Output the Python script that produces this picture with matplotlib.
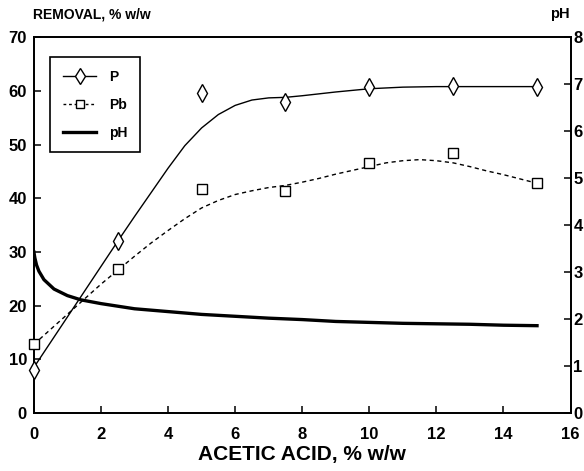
import matplotlib

matplotlib.use("Agg")
import matplotlib.pyplot as plt
from matplotlib.lines import Line2D

plt.rcParams["font.family"] = ["Liberation Sans", "DejaVu Sans"]
plt.rcParams["font.weight"] = "bold"
plt.rcParams["axes.labelweight"] = "bold"

# measured removal, % w/w
acid = [0, 2.5, 5, 7.5, 10, 12.5, 15]
p_removal = [8.0, 32.0, 59.6, 57.9, 60.7, 60.9, 60.8]
pb_removal = [12.8, 26.8, 41.7, 41.4, 46.6, 48.5, 42.8]

# fitted trend for P
p_fit_x = [0, 0.5, 1, 1.5, 2, 2.5, 3, 3.5, 4, 4.5, 5, 5.5, 6, 6.5, 7, 7.5, 8, 9, 10, 11, 12, 13, 14, 15]
p_fit_y = [8.5, 13.2, 17.9, 22.6, 27.3, 32.0, 36.6, 41.1, 45.6, 49.8, 53.1, 55.6, 57.3, 58.3, 58.7, 58.8,
           59.1, 59.8, 60.4, 60.7, 60.8, 60.8, 60.8, 60.8]

# fitted trend for Pb
pb_fit_x = [0, 0.5, 1, 1.5, 2, 2.5, 3, 3.5, 4, 4.5, 5, 5.5, 6, 6.5, 7, 7.5, 8, 8.5, 9, 9.5, 10,
            10.5, 11, 11.5, 12, 12.5, 13, 13.5, 14, 14.5, 15]
pb_fit_y = [12.8, 15.6, 18.4, 21.2, 24.0, 26.6, 29.2, 31.7, 34.0, 36.2, 38.2, 39.6, 40.7, 41.4, 42.0,
            42.4, 43.0, 43.7, 44.5, 45.2, 45.9, 46.6, 47.0, 47.2, 47.0, 46.6, 45.9, 45.1, 44.4, 43.6, 42.8]

# pH of the extract
ph_x = [0.0, 0.03, 0.08, 0.15, 0.3, 0.6, 1.0, 1.4, 2.0, 3.0, 4.0, 5.0, 6.0, 7.0, 8.0, 9.0, 10.0, 11.0,
        12.0, 13.0, 14.0, 15.0]
ph_y = [3.43, 3.30, 3.15, 3.02, 2.84, 2.64, 2.50, 2.41, 2.33, 2.22, 2.16, 2.10, 2.06, 2.02, 1.99, 1.95,
        1.93, 1.91, 1.90, 1.89, 1.87, 1.86]

fig = plt.figure(figsize=(5.84, 4.71), dpi=100)
ax = fig.add_axes([0.058, 0.123, 0.919, 0.798])
ax2 = ax.twinx()

ax.plot(p_fit_x, p_fit_y, color="black", lw=1.0)
ax.plot(pb_fit_x, pb_fit_y, color="black", lw=1.0, ls=(0, (3, 2.5)))
ax2.plot(ph_x, ph_y, color="black", lw=2.4)
ax.plot(acid, p_removal, ls="none", marker="d", ms=9, mfc="white", mec="black", mew=1.0,
        zorder=5, clip_on=False)
ax.plot(acid, pb_removal, ls="none", marker="s", ms=7, mfc="white", mec="black", mew=1.0,
        zorder=5, clip_on=False)

ax.set_xlim(0, 16)
ax.set_ylim(0, 70)
ax2.set_ylim(0, 8)
ax.set_xticks(range(0, 17, 2))
ax.set_yticks(range(0, 71, 10))
ax2.set_yticks(range(0, 9))

ax.set_zorder(ax2.get_zorder() + 1)
ax.patch.set_visible(False)

for a in (ax, ax2):
    for s in a.spines.values():
        s.set_linewidth(1.3)
    a.tick_params(direction="in", length=5, width=1.1, labelsize=12, pad=4)
ax.tick_params(axis="x", pad=10)
ax.tick_params(axis="y", pad=5)
ax2.tick_params(axis="y", pad=2)

ax.set_xlabel("ACETIC ACID, % w/w", fontsize=15, labelpad=2)
fig.text(0.056, 0.955, "REMOVAL, % w/w", fontsize=10, ha="left", va="bottom")
fig.text(0.975, 0.955, "pH", fontsize=10.5, ha="right", va="bottom")

handles = [
    Line2D([], [], color="black", lw=1.0, marker="d", ms=8, mfc="white", mec="black"),
    Line2D([], [], color="black", lw=1.0, ls=(0, (2, 2)), marker="s", ms=6, mfc="white", mec="black"),
    Line2D([], [], color="black", lw=2.4),
]
leg = ax.legend(handles, ["P", "Pb", "pH"], loc="upper left", bbox_to_anchor=(0.018, 0.965),
                fancybox=False, edgecolor="black", framealpha=1, fontsize=10, handlelength=2.4,
                borderpad=0.9, labelspacing=1.0, handletextpad=0.9)
leg.get_frame().set_linewidth(1.2)

fig.savefig("out.png", dpi=100)
